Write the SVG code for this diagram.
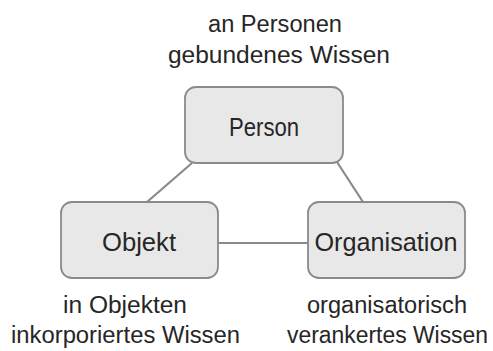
<svg xmlns="http://www.w3.org/2000/svg" width="493" height="351" viewBox="0 0 493 351">
  <style>
    .box { fill: #e8e8e8; stroke: #8a8a8a; stroke-width: 1.8; }
    .lbl { font-family: "Liberation Sans", Arial, sans-serif; font-size: 23.5px; fill: #262626; text-anchor: middle; }
    .node-lbl { font-size: 25px; }
    .edge { stroke: #8a8a8a; stroke-width: 2.2; fill: none; }
  </style>
  <rect width="493" height="351" fill="#ffffff"/>

  <g id="connectors">
    <line class="edge" x1="192" y1="163" x2="147" y2="202"/>
    <line class="edge" x1="337" y1="162" x2="363" y2="202"/>
    <line class="edge" x1="218" y1="243" x2="308" y2="243"/>
  </g>

  <g id="person">
    <rect class="box" x="185" y="87" width="158" height="76" rx="11"/>
    <text class="lbl node-lbl" x="264" y="136" textLength="70" lengthAdjust="spacingAndGlyphs">Person</text>
  </g>

  <g id="objekt">
    <rect class="box" x="61" y="202" width="157" height="76" rx="11"/>
    <text class="lbl node-lbl" x="139" y="251" textLength="74" lengthAdjust="spacingAndGlyphs">Objekt</text>
  </g>

  <g id="organisation">
    <rect class="box" x="308" y="202" width="157" height="76" rx="11"/>
    <text class="lbl node-lbl" x="386" y="251" textLength="143" lengthAdjust="spacingAndGlyphs">Organisation</text>
  </g>

  <g id="caption-person">
    <text class="lbl" x="275" y="32" textLength="134" lengthAdjust="spacingAndGlyphs">an Personen</text>
    <text class="lbl" x="279" y="63" textLength="222" lengthAdjust="spacingAndGlyphs">gebundenes Wissen</text>
  </g>

  <g id="caption-objekt">
    <text class="lbl" x="125" y="313" textLength="124" lengthAdjust="spacingAndGlyphs">in Objekten</text>
    <text class="lbl" x="125.5" y="343" textLength="229" lengthAdjust="spacingAndGlyphs">inkorporiertes Wissen</text>
  </g>

  <g id="caption-organisation">
    <text class="lbl" x="387" y="313" textLength="160" lengthAdjust="spacingAndGlyphs">organisatorisch</text>
    <text class="lbl" x="387.5" y="343" textLength="201" lengthAdjust="spacingAndGlyphs">verankertes Wissen</text>
  </g>
</svg>
